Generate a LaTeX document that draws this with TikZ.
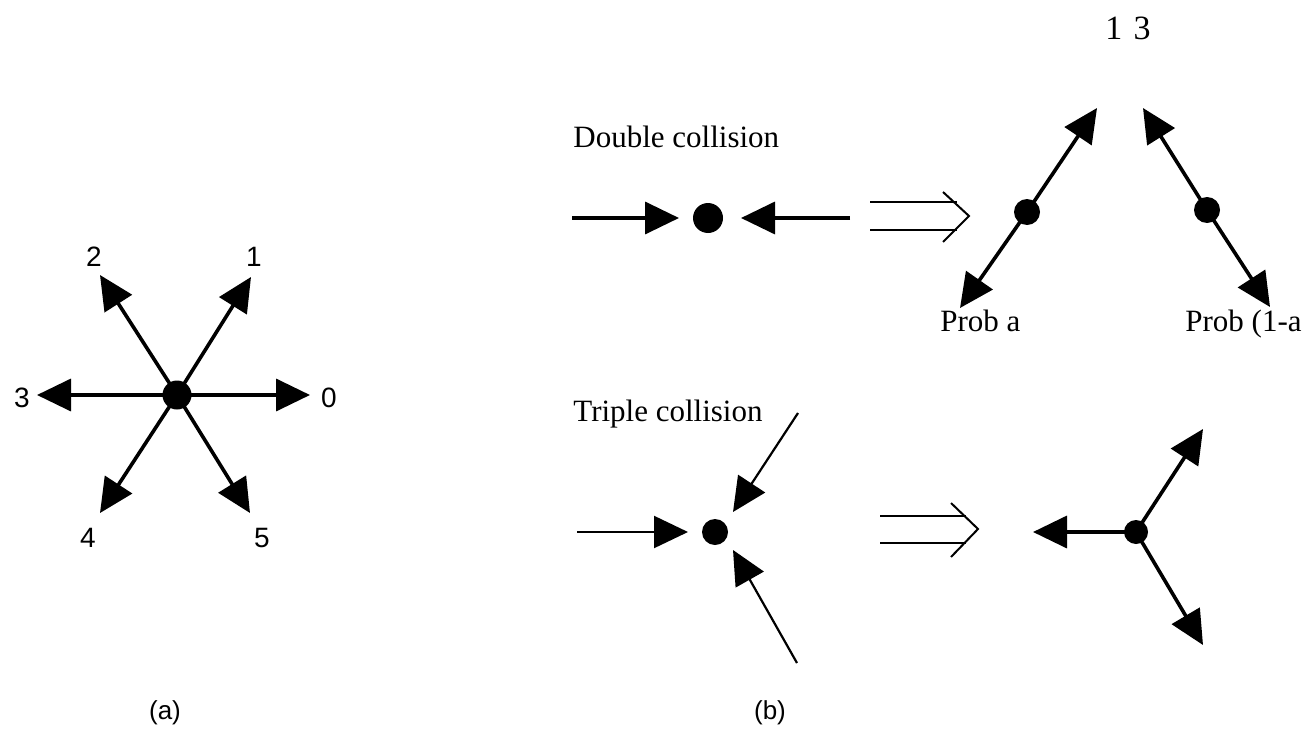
\documentclass[tikz,border=0pt]{standalone}
\usepackage{fontspec}
\setmainfont{Liberation Serif}
\newfontfamily\labelsans{Liberation Sans}
\usetikzlibrary{arrows.meta}
\tikzset{
  vec/.style={line width=1.8pt, -{Triangle[length=17pt,width=16pt]}},
  thinvec/.style={line width=1.1pt, -{Triangle[length=17pt,width=16pt]}},
  particle/.style={circle, fill=black, inner sep=0pt, minimum size=#1},
  dirlabel/.style={font=\labelsans\fontsize{14}{16}\selectfont, inner sep=0pt},
  caption/.style={font=\labelsans\fontsize{13}{15}\selectfont, inner sep=0pt},
  heading/.style={font=\fontsize{15.5}{18}\selectfont, inner sep=0pt, anchor=base west},
  implies/.style={line width=1pt},
}
\begin{document}
\begin{tikzpicture}[x=0.5pt,y=-0.5pt]
\useasboundingbox (0,0) rectangle (1310,733);

% ---------- (a) the six lattice directions ----------
\node[particle=14.5pt] (c) at (177,395) {};
\coordinate (d0) at (310,395);
\coordinate (d1) at (251,277);
\coordinate (d2) at (100,275);
\coordinate (d3) at (37,395);
\coordinate (d4) at (100,513);
\coordinate (d5) at (250,513);
\foreach \k in {0,...,5} \draw[vec] (c.center) -- (d\k);
\node[dirlabel] (l0) at (329,398) {0};
\node[dirlabel] (l1) at (254,257) {1};
\node[dirlabel] (l2) at (94,257) {2};
\node[dirlabel] (l3) at (22,398) {3};
\node[dirlabel] (l4) at (88,538) {4};
\node[dirlabel] (l5) at (262,538) {5};
\node[caption] (capa) at (165,713) {(a)};

% ---------- (b) collision rules ----------
\node[font=\fontsize{17}{20}\selectfont, inner sep=0pt, anchor=base] (pg) at (1128,40) {1\,\,3};

% double collision
\node[heading] (dh) at (573,148) {Double collision};
\node[particle=15pt] (dd) at (708,218) {};
\coordinate (da) at (572,218);
\coordinate (dat) at (679,218);
\coordinate (db) at (850,218);
\coordinate (dbt) at (741,218);
\draw[vec] (da) -- (dat);
\draw[vec] (db) -- (dbt);

\coordinate (di1) at (870,202);
\coordinate (di1e) at (957,202);
\coordinate (di2) at (870,230);
\coordinate (di2e) at (957,230);
\coordinate (ditip) at (969,216);
\draw[implies] (di1) -- (di1e);
\draw[implies] (di2) -- (di2e);
\draw[implies] (943,192) -- (ditip) -- (943,242);

\node[particle=13pt] (dl) at (1027,212) {};
\coordinate (dlu) at (1097,108);
\coordinate (dld) at (960,308);
\draw[vec] (dl.center) -- (dlu);
\draw[vec] (dl.center) -- (dld);
\node[particle=13pt] (dr) at (1207,210) {};
\coordinate (dru) at (1143,108);
\coordinate (drd) at (1270,307);
\draw[vec] (dr.center) -- (dru);
\draw[vec] (dr.center) -- (drd);
\node[heading] (pa) at (940,331) {Prob a};
\node[heading] (pb) at (1185,331) {Prob (1-a};

% triple collision
\node[heading] (th) at (573,421) {Triple collision};
\node[particle=13pt] (td) at (715,532) {};
\coordinate (ta) at (577,532);
\coordinate (tat) at (688,532);
\coordinate (tb) at (798,413);
\coordinate (tbt) at (733,512);
\coordinate (tc) at (797,663);
\coordinate (tct) at (733,550);
\draw[thinvec] (ta) -- (tat);
\draw[thinvec] (tb) -- (tbt);
\draw[thinvec] (tc) -- (tct);

\coordinate (ti1) at (880,516);
\coordinate (ti1e) at (966,516);
\coordinate (ti2) at (880,543);
\coordinate (ti2e) at (966,543);
\coordinate (titip) at (978,529);
\draw[implies] (ti1) -- (ti1e);
\draw[implies] (ti2) -- (ti2e);
\draw[implies] (951,503) -- (titip) -- (951,557);

\node[particle=12pt] (to) at (1136,532) {};
\coordinate (tol) at (1033,532);
\coordinate (tou) at (1203,429);
\coordinate (tod) at (1203,645);
\draw[vec] (to.center) -- (tol);
\draw[vec] (to.center) -- (tou);
\draw[vec] (to.center) -- (tod);

\node[caption] (capb) at (770,713) {(b)};
\end{tikzpicture}
\end{document}
